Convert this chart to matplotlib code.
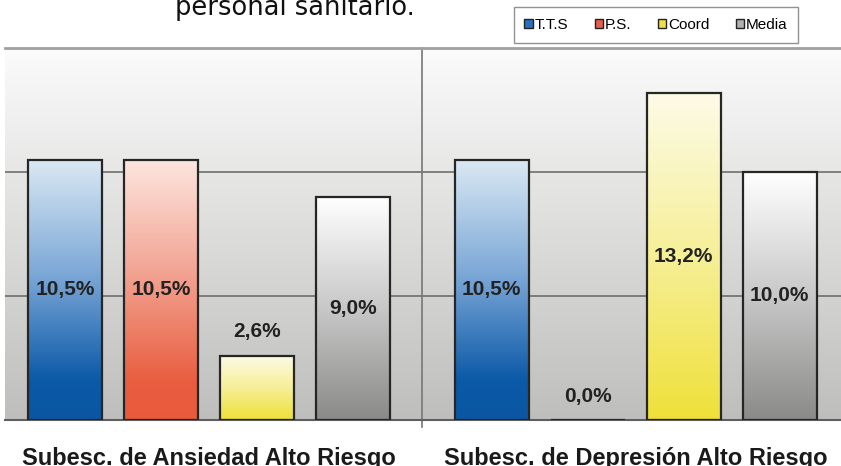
import numpy as np
import matplotlib.pyplot as plt
from matplotlib.colors import LinearSegmentedColormap
from matplotlib.patches import Patch
import matplotlib.transforms as mtransforms

# Datos del gráfico
categorias = ['Subesc. de Ansiedad Alto Riesgo', 'Subesc. de Depresión Alto Riesgo']
series = ['T.T.S', 'P.S.', 'Coord', 'Media']
tts = [10.5, 10.5]
ps = [10.5, 0.0]
coord = [2.6, 13.2]
media = [9.0, 10.0]
valores = [tts, ps, coord, media]

# Degradados de cada serie (abajo -> arriba)
degradados = [
    [(0, '#0a56a3'), (0.15, '#0b59a7'), (0.55, '#7aa6d6'), (1, '#dbe9f3')],
    [(0, '#e85a3a'), (0.15, '#e95e40'), (0.55, '#f2a190'), (1, '#fde6df')],
    [(0, '#efe038'), (0.5, '#f6ef97'), (1, '#fdfbe8')],
    [(0, '#8a8a88'), (0.5, '#c8c8c8'), (1, '#ffffff')],
]
colores_leyenda = ['#2a70c0', '#e8604a', '#f0e040', '#b0b0b0']

fig = plt.figure(figsize=(8.41, 4.66), dpi=100)
ax = fig.add_axes([5 / 841, 46 / 466, 836 / 841, 372 / 466])

# Fondo degradado del área de trazado
fondo = np.linspace(0, 1, 256).reshape(-1, 1)
cmap_fondo = LinearSegmentedColormap.from_list('fondo', ['#bebebc', '#fbfbfb'])
ax.imshow(fondo, cmap=cmap_fondo, origin='lower', extent=[0, 1, 0, 1],
          transform=ax.transAxes, aspect='auto', zorder=0)

# Líneas de cuadrícula
for g in [5, 10]:
    ax.axhline(g, color='#6e6e6e', lw=1.2, zorder=1)

x = np.arange(len(categorias))
ancho = 0.1735
paso = 0.225
offsets = (np.arange(len(series)) - 1.5) * paso

for i, (vals, grad) in enumerate(zip(valores, degradados)):
    cmap = LinearSegmentedColormap.from_list(series[i], grad)
    barras = ax.bar(x + offsets[i], vals, width=ancho, facecolor='none',
                    edgecolor='#262626', linewidth=1.6, zorder=3)
    for rect, v in zip(barras, vals):
        if v > 0:
            x0 = rect.get_x()
            im = ax.imshow(fondo, cmap=cmap, origin='lower',
                           extent=[x0, x0 + rect.get_width(), 0, v],
                           aspect='auto', zorder=2)
            im.set_clip_path(rect)
        y = v / 2 if v > 5 else v + 0.95
        ax.text(rect.get_x() + rect.get_width() / 2, y,
                f'{v:.1f}%'.replace('.', ','), ha='center', va='center',
                fontsize=15, fontweight='bold', color='#222222',
                family='Liberation Sans', zorder=4)

ax.set_xlim(-0.479, 1.4814)
ax.set_ylim(0, 15)

# Separador entre categorías
ax.axvline(0.5, ymin=-0.019, ymax=1, color='#777777', lw=1.2, zorder=1,
           clip_on=False)

ax.set_xticks([])
ax.set_yticks([])
for lado in ['left', 'right']:
    ax.spines[lado].set_visible(False)
ax.spines['top'].set_color('#a0a0a0')
ax.spines['top'].set_linewidth(2)
ax.spines['bottom'].set_color('#5e5e5e')
ax.spines['bottom'].set_linewidth(1.5)

# Etiquetas de categoría
trans = mtransforms.blended_transform_factory(ax.transData, fig.transFigure)
for xi, cat in zip(x, categorias):
    ax.text(xi, 1.5 / 466, cat, transform=trans, ha='center', va='baseline',
            fontsize=17, fontweight='bold', color='#1a1a1a',
            family='Liberation Sans')

# Título (cortado en el original)
fig.text(295 / 841, 1 - 15 / 466, 'personal sanitario.', ha='center',
         va='baseline', fontsize=18.5, color='#111111', family='DejaVu Sans')

# Leyenda
manejadores = [Patch(facecolor=c, edgecolor='#222222', lw=1) for c in colores_leyenda]
fig.legend(manejadores, series, loc='center', bbox_to_anchor=(656 / 841, 1 - 25 / 466),
           ncol=4, frameon=True, fancybox=False, edgecolor='#777777',
           handlelength=0.55, handleheight=0.55, handletextpad=0.1, columnspacing=1.75,
           borderpad=0.7, borderaxespad=0,
           prop={'family': 'Liberation Sans', 'size': 11})

fig.savefig('out.png', dpi=100)
